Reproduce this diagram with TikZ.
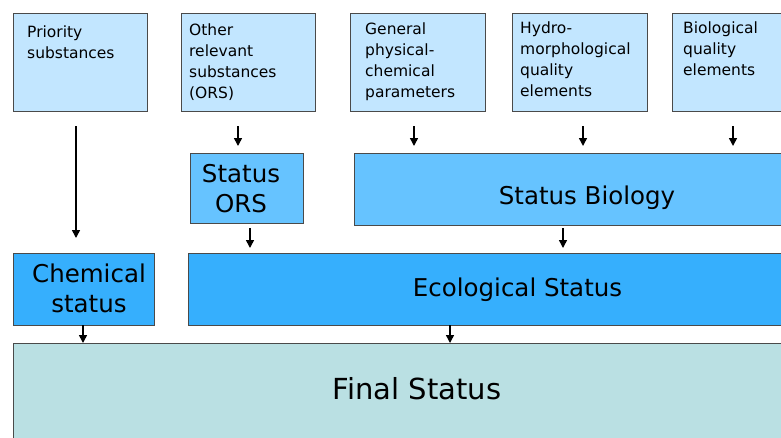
\documentclass[tikz,border=0pt]{standalone}
\usepackage{fontspec}
\setmainfont{DejaVu Sans}
\usetikzlibrary{arrows.meta}
\definecolor{lichtblauw}{HTML}{C2E6FF}
\definecolor{middenblauw}{HTML}{66C3FF}
\definecolor{donkerblauw}{HTML}{36AFFD}
\definecolor{grijsblauw}{HTML}{BAE0E3}
\definecolor{rand}{HTML}{4A4A4A}
\begin{document}
\begin{tikzpicture}[x=1pt,y=-1pt,
  box/.style={draw=rand,line width=1.3pt,anchor=north west,inner sep=0pt},
  klein/.style={anchor=base west,align=left,inner sep=0pt,font=\fontsize{15.5}{21}\selectfont},
  groot/.style={anchor=base,align=center,inner sep=0pt,font=\fontsize{24.5}{30}\selectfont},
  pijl/.style={line width=1.5pt,-{Triangle[length=8pt,width=8pt]}}]
\useasboundingbox (0,0) rectangle (781,437);
\clip (0,0) rectangle (781,437);

% Bovenste rij
\node[box,fill=lichtblauw,minimum width=134pt,minimum height=98pt] (PS) at (13,13) {};
\node[box,fill=lichtblauw,minimum width=134pt,minimum height=98pt] (ORS) at (181,13) {};
\node[box,fill=lichtblauw,minimum width=135pt,minimum height=98pt] (GPC) at (350,13) {};
\node[box,fill=lichtblauw,minimum width=135pt,minimum height=98pt] (HM) at (512,13) {};
\node[box,fill=lichtblauw,minimum width=140pt,minimum height=98pt] (BQ) at (672,13) {};
% (basislijn van de laatste regel)
\node[klein] (PSt) at (27,58) {Priority\\substances};
\node[klein] (ORSt) at (189,98) {Other\\relevant\\substances\\(ORS)};
\node[klein] (GPCt) at (365,97) {General\\physical-\\chemical\\parameters};
\node[klein] (HMt) at (520,96) {Hydro-\\morphological\\quality\\elements};
\node[klein] (BQt) at (683,75) {Biological\\quality\\elements};

% Statussen
\node[box,fill=middenblauw,minimum width=113pt,minimum height=70pt] (SO) at (190,153) {};
\node[box,fill=middenblauw,minimum width=460pt,minimum height=72pt] (SB) at (354,153) {};
\node[box,fill=donkerblauw,minimum width=141pt,minimum height=72pt] (CS) at (13,253) {};
\node[box,fill=donkerblauw,minimum width=620pt,minimum height=72pt] (ES) at (188,253) {};
\node[box,fill=grijsblauw,minimum width=800pt,minimum height=120pt] (FS) at (13,343) {};
\node[groot] (SOt) at (241,212) {Status\\ORS};
\node[groot] (SBt) at (587,204) {Status Biology};
\node[groot] (CSt) at (89,312) {Chemical\\status};
\node[groot] (ESt) at (517.5,296) {Ecological Status};
\node[anchor=base,inner sep=0pt,font=\fontsize{29}{34}\selectfont] (FSt) at (417,399) {Final Status};

% Pijlen
\coordinate (p1) at (76,126);
\coordinate (p2) at (238,126);
\coordinate (p3) at (414,126);
\coordinate (p4) at (583,126);
\coordinate (p5) at (733,126);
\coordinate (q1) at (250,228);
\coordinate (q2) at (563,228);
\coordinate (r1) at (83,325);
\coordinate (r2) at (450,325);
\draw[pijl,shorten >=15pt] (p1) -- (p1 |- CS.north);
\draw[pijl,shorten >=7pt] (p2) -- (p2 |- SO.north);
\draw[pijl,shorten >=7pt] (p3) -- (p3 |- SB.north);
\draw[pijl,shorten >=7pt] (p4) -- (p4 |- SB.north);
\draw[pijl,shorten >=7pt] (p5) -- (p5 |- SB.north);
\draw[pijl,shorten >=5pt] (q1) -- (q1 |- ES.north);
\draw[pijl,shorten >=5pt] (q2) -- (q2 |- ES.north);
\draw[pijl] (r1) -- (r1 |- FS.north);
\draw[pijl] (r2) -- (r2 |- FS.north);
\end{tikzpicture}
\end{document}
